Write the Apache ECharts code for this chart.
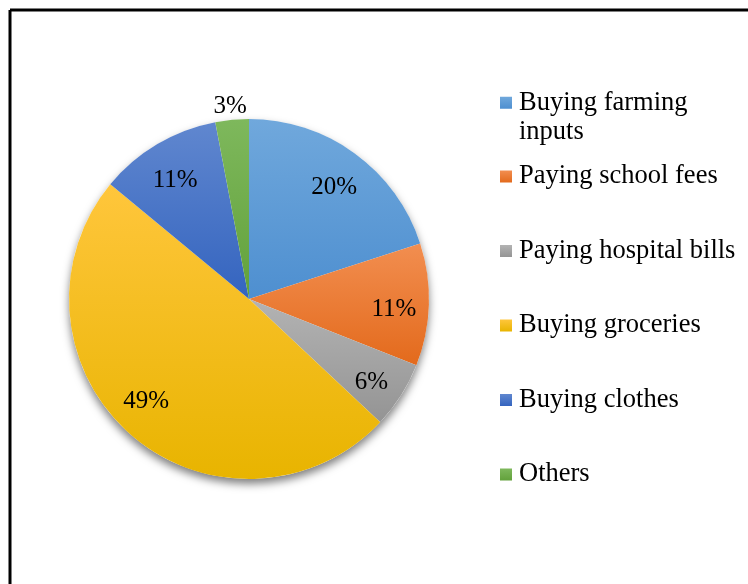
<!DOCTYPE html>
<html>
<head>
<meta charset="utf-8">
<script src="https://cdn.jsdelivr.net/npm/echarts@6/dist/echarts.min.js"></script>
<style>
html,body{margin:0;padding:0;background:#fff;}
#chart{width:748px;height:584px;}
</style>
</head>
<body>
<div id="chart"></div>
<script>
// Data
const categories = ['Buying farming inputs', 'Paying school fees', 'Paying hospital bills', 'Buying groceries', 'Buying clothes', 'Others'];
const values = [20, 11, 6, 49, 11, 3];
// gradient colours (top, bottom)
const colorTop = ['#70A8DC', '#F28E50', '#B3B3B3', '#FFC63C', '#6087CF', '#7EB85C'];
const colorBottom = ['#4E8FD0', '#E36A1C', '#949494', '#E8B400', '#3464BF', '#62A13B'];

const chart = echarts.init(document.getElementById('chart'), null, {renderer: 'canvas'});
const FONT = '"Liberation Serif", "Times New Roman", serif';
const center = [249, 299];
const labelCenter = [249, 305];
const R = 180;

function grad(i) {
  return new echarts.graphic.LinearGradient(0, 0, 0, 1, [
    {offset: 0, color: colorTop[i]},
    {offset: 1, color: colorBottom[i]}
  ]);
}

const visibleData = categories.map((c, i) => ({name: c, value: values[i], itemStyle: {color: grad(i)}}));
const insideLabelData = categories.map((c, i) => {
  const item = {name: c, value: values[i], label: {show: c !== 'Others'}};
  if (c === 'Buying groceries') {
    item.label.formatter = '{d}%\n ';
    item.label.padding = [0, 14, 0, 0];
  }
  return item;
});
const outsideLabelData = categories.map((c, i) => ({
  name: c, value: values[i],
  label: {show: c === 'Others'}
}));

const labelCommon = {
  position: 'inside',
  formatter: '{d}%',
  fontFamily: FONT,
  fontSize: 25,
  lineHeight: 24,
  color: '#000'
};
const transparentItem = {color: 'rgba(0,0,0,0)', borderWidth: 0};

const option = {
  backgroundColor: '#fff',
  animation: false,
  graphic: [
    {type: 'line', shape: {x1: 10, y1: 10, x2: 748, y2: 10}, style: {stroke: '#000', lineWidth: 3}, z: 100},
    {type: 'line', shape: {x1: 10, y1: 10, x2: 10, y2: 584}, style: {stroke: '#000', lineWidth: 3}, z: 100}
  ],
  legend: [
    {
      orient: 'vertical',
      left: 500,
      top: 58.5,
      padding: 0,
      itemWidth: 12,
      itemHeight: 12,
      icon: 'rect',
      data: [categories[0]],
      selectedMode: false,
      formatter: () => ' \nBuying farming\ninputs',
      textStyle: {fontFamily: FONT, fontSize: 26.5, color: '#000', lineHeight: 29.5, padding: [0, 0, 0, 2]}
    },
    {
      orient: 'vertical',
      left: 500,
      top: 163,
      padding: 0,
      itemWidth: 12,
      itemHeight: 12,
      itemGap: 47.5,
      icon: 'rect',
      data: categories.slice(1),
      selectedMode: false,
      textStyle: {fontFamily: FONT, fontSize: 26.5, color: '#000', lineHeight: 24, padding: [0, 0, 0, 2]}
    }
  ],
  series: [
    {
      type: 'pie',
      name: 'shadow',
      center: center,
      radius: R,
      silent: true,
      z: 1,
      label: {show: false},
      labelLine: {show: false},
      itemStyle: {color: '#fff', shadowBlur: 9, shadowOffsetY: 5, shadowColor: 'rgba(0,0,0,0.5)'},
      data: [{name: '_bg', value: 1}]
    },
    {
      type: 'pie',
      name: 'main',
      center: center,
      radius: R,
      startAngle: 90,
      clockwise: true,
      z: 2,
      silent: true,
      label: {show: false},
      labelLine: {show: false},
      itemStyle: {borderWidth: 0},
      data: visibleData
    },
    {
      type: 'pie',
      name: 'labelsInside',
      center: labelCenter,
      radius: [0, 284],
      startAngle: 90,
      clockwise: true,
      z: 3,
      silent: true,
      avoidLabelOverlap: false,
      itemStyle: transparentItem,
      label: labelCommon,
      labelLine: {show: false},
      data: insideLabelData
    },
    {
      type: 'pie',
      name: 'labelsOutside',
      center: labelCenter,
      radius: [0, 392],
      startAngle: 90,
      clockwise: true,
      z: 3,
      silent: true,
      avoidLabelOverlap: false,
      itemStyle: transparentItem,
      label: labelCommon,
      labelLine: {show: false},
      data: outsideLabelData
    }
  ]
};
chart.setOption(option);
</script>
</body>
</html>
